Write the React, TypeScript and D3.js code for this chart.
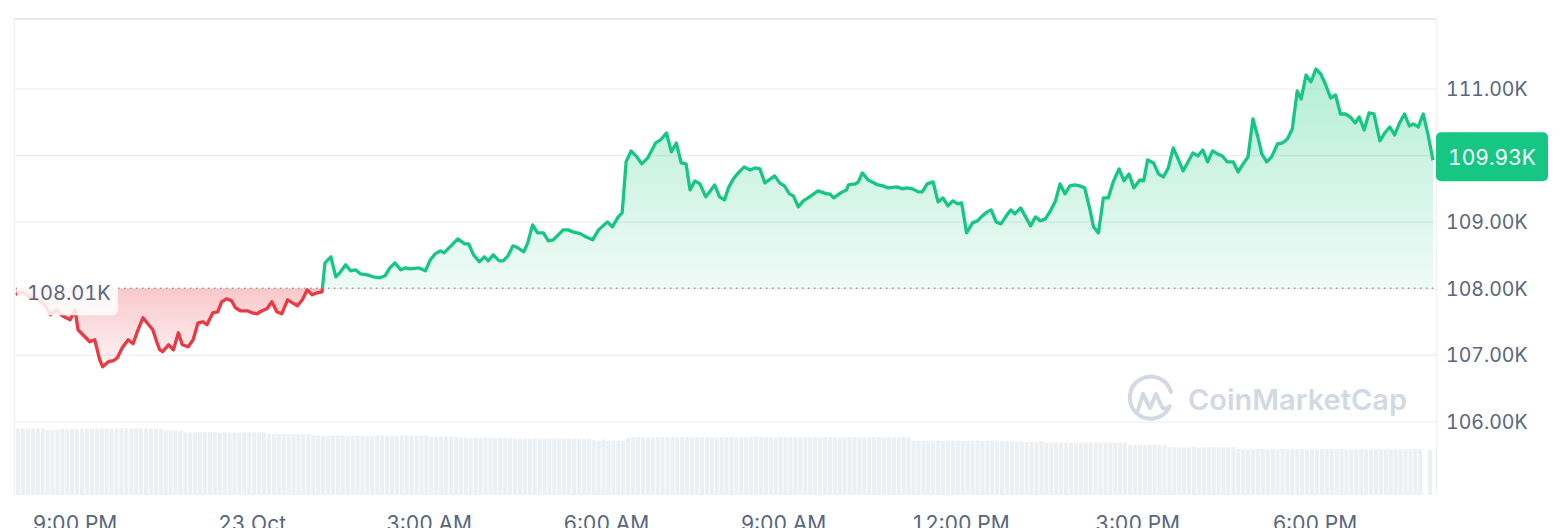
import React from "react";
import * as d3 from "d3";

// ---- data ----
const startTime = new Date(2024, 9, 22, 20, 0);
const basePrice = 108.01; // K, opening reference
const lastPriceLabel = "109.93K";

// minutes since start, prices in thousands USD
const minutes = [
  0, 6, 14, 22, 29, 35, 41, 47, 55, 60,
  63, 69, 75, 80, 85, 88, 94, 99, 103, 108,
  114, 119, 124, 129, 134, 139, 143, 146, 149, 155,
  160, 165, 169, 175, 180, 185, 190, 194, 200, 205,
  209, 214, 219, 223, 228, 235, 240, 245, 250, 255,
  260, 265, 270, 276, 281, 286, 291, 296, 301, 306,
  311, 314, 320, 325, 329, 335, 340, 345, 350, 357,
  363, 370, 375, 380, 385, 391, 396, 401, 409, 416,
  421, 426, 431, 435, 441, 449, 456, 460, 465, 471,
  476, 480, 485, 491, 495, 500, 505, 510, 516, 520,
  525, 530, 536, 541, 546, 551, 556, 561, 566, 574,
  579, 586, 592, 601, 606, 612, 616, 620, 625, 631,
  636, 642, 650, 655, 661, 666, 671, 676, 681, 685,
  690, 695, 701, 710, 715, 720, 724, 729, 734, 740,
  746, 751, 756, 761, 771, 776, 781, 786, 790, 795,
  800, 805, 815, 824, 827, 831, 838, 844, 846, 853,
  856, 860, 866, 876, 881, 886, 895, 901, 905, 911,
  917, 921, 926, 932, 937, 942, 947, 952, 957, 961,
  966, 972, 977, 982, 987, 991, 996, 1001, 1007, 1011,
  1015, 1021, 1026, 1031, 1036, 1041, 1046, 1050, 1056, 1061,
  1066, 1071, 1076, 1081, 1086, 1091, 1095, 1100, 1105, 1110,
  1115, 1121, 1126, 1131, 1136, 1142, 1146, 1150, 1156, 1161,
  1166, 1171, 1176, 1181, 1186, 1191, 1196, 1201, 1206, 1211,
  1216, 1221, 1226, 1231, 1237, 1242, 1247, 1252, 1257, 1262,
  1266, 1271, 1276, 1282, 1287, 1292, 1297, 1302, 1306, 1311,
  1316, 1321, 1326, 1331, 1336, 1341, 1346, 1351, 1356, 1361,
  1365, 1370, 1375, 1380, 1386, 1391, 1396, 1401, 1406, 1411,
  1416, 1420, 1425, 1430, 1435, 1440,
];

const prices = [
  107.91, 107.955, 107.88, 107.835, 107.76, 107.61, 107.685, 107.595, 107.535, 107.685,
  107.385, 107.295, 107.205, 107.235, 106.935, 106.83, 106.905, 106.92, 106.965, 107.115,
  107.235, 107.175, 107.385, 107.565, 107.475, 107.385, 107.205, 107.085, 107.055, 107.16,
  107.085, 107.34, 107.16, 107.13, 107.235, 107.49, 107.505, 107.46, 107.64, 107.655,
  107.805, 107.85, 107.82, 107.715, 107.67, 107.67, 107.64, 107.625, 107.67, 107.7,
  107.805, 107.655, 107.625, 107.835, 107.79, 107.745, 107.835, 107.985, 107.91, 107.94,
  107.955, 108.39, 108.48, 108.18, 108.24, 108.36, 108.27, 108.285, 108.225, 108.21,
  108.18, 108.165, 108.195, 108.315, 108.39, 108.285, 108.315, 108.3, 108.315, 108.27,
  108.435, 108.525, 108.57, 108.54, 108.63, 108.75, 108.675, 108.675, 108.51, 108.405,
  108.48, 108.42, 108.51, 108.42, 108.42, 108.495, 108.645, 108.615, 108.555, 108.69,
  108.96, 108.84, 108.84, 108.72, 108.735, 108.81, 108.885, 108.885, 108.855, 108.825,
  108.78, 108.735, 108.885, 109.005, 108.93, 109.08, 109.14, 109.905, 110.07, 109.98,
  109.875, 109.965, 110.19, 110.235, 110.34, 110.055, 110.19, 109.89, 109.875, 109.485,
  109.62, 109.575, 109.38, 109.56, 109.38, 109.335, 109.515, 109.65, 109.74, 109.83,
  109.785, 109.815, 109.8, 109.59, 109.695, 109.59, 109.545, 109.425, 109.395, 109.23,
  109.32, 109.365, 109.47, 109.425, 109.425, 109.365, 109.44, 109.485, 109.56, 109.575,
  109.605, 109.74, 109.635, 109.56, 109.545, 109.515, 109.53, 109.5, 109.515, 109.5,
  109.455, 109.455, 109.575, 109.605, 109.305, 109.365, 109.245, 109.32, 109.275, 109.29,
  108.84, 108.99, 109.02, 109.095, 109.155, 109.185, 109.005, 108.975, 109.11, 109.185,
  109.125, 109.215, 109.08, 108.945, 109.08, 109.02, 109.05, 109.14, 109.305, 109.575,
  109.425, 109.545, 109.56, 109.545, 109.515, 109.215, 108.93, 108.84, 109.365, 109.365,
  109.605, 109.8, 109.62, 109.725, 109.515, 109.635, 109.62, 109.935, 109.89, 109.725,
  109.68, 109.815, 110.115, 109.95, 109.77, 109.905, 110.04, 109.995, 110.085, 109.905,
  110.07, 110.025, 109.995, 109.905, 109.905, 109.755, 109.875, 109.98, 110.55, 110.28,
  110.025, 109.905, 109.98, 110.175, 110.19, 110.25, 110.4, 110.97, 110.85, 111.21,
  111.105, 111.3, 111.225, 111.06, 110.865, 110.91, 110.625, 110.625, 110.58, 110.49,
  110.58, 110.385, 110.64, 110.625, 110.22, 110.34, 110.43, 110.31, 110.49, 110.625,
  110.445, 110.475, 110.43, 110.625, 110.31, 109.93,
];

// 5-minute volume bars (billions USD)
const volumes = [
  41.8, 41.9, 41.7, 41.8, 41.6, 41.8, 40.9, 40.7, 40.8, 41.4,
  41.2, 41.5, 41.3, 41.4, 41.8, 41.7, 41.9, 41.8, 41.8, 41.7,
  41.9, 41.8, 41.8, 41.6, 41.8, 41.9, 41.7, 41.8, 41.6, 41.5,
  40.6, 40.3, 40.5, 40.2, 39.4, 39.3, 39.2, 39.3, 39.4, 39.3,
  39.3, 39.2, 39.4, 39.3, 39.3, 39.2, 39.3, 39.4, 39.3, 39.2,
  39.3, 38.3, 38.2, 38.1, 38.2, 38.3, 38.2, 38.0, 38.2, 38.1,
  37.2, 37.3, 37.1, 37.2, 37.2, 37.3, 37.2, 37.1, 37.2, 37.2,
  37.3, 37.2, 37.1, 37.2, 37.2, 37.3, 37.2, 37.1, 37.2, 37.2,
  37.3, 37.2, 37.1, 37.2, 36.6, 36.7, 36.5, 36.6, 36.6, 36.5,
  35.9, 36.0, 35.8, 35.9, 35.9, 36.0, 35.8, 35.9, 35.9, 35.8,
  35.9, 35.3, 35.4, 35.2, 35.3, 35.3, 35.4, 35.2, 35.3, 35.3,
  35.4, 35.2, 35.3, 35.3, 35.4, 35.2, 35.3, 34.6, 34.2, 34.8,
  33.9, 34.0, 34.1, 34.0, 35.8, 36.2, 36.3, 36.1, 36.2, 36.2,
  36.3, 36.2, 36.1, 36.2, 36.2, 36.3, 36.2, 36.1, 36.2, 36.2,
  36.3, 36.2, 36.1, 36.2, 36.2, 36.3, 36.2, 36.1, 36.2, 36.2,
  36.3, 36.2, 36.1, 36.2, 36.2, 36.3, 36.2, 36.1, 36.2, 36.2,
  36.3, 36.2, 36.1, 36.2, 36.2, 36.3, 36.2, 36.1, 36.2, 36.2,
  36.3, 36.2, 36.1, 36.2, 36.2, 36.3, 36.2, 36.1, 36.2, 36.2,
  36.3, 36.2, 34.0, 34.1, 33.9, 34.0, 34.0, 34.1, 33.9, 34.0,
  34.0, 34.1, 33.9, 34.0, 34.0, 34.1, 33.9, 34.0, 34.0, 34.1,
  33.9, 34.0, 34.0, 33.4, 33.5, 33.3, 33.4, 33.4, 33.5, 32.8,
  32.9, 32.7, 32.8, 32.8, 32.9, 32.7, 32.8, 32.8, 32.9, 32.7,
  32.8, 32.8, 32.9, 32.7, 32.8, 32.8, 31.4, 31.5, 31.3, 31.4,
  31.4, 31.5, 31.3, 31.4, 29.9, 30.0, 29.8, 29.9, 29.9, 30.0,
  29.8, 29.9, 29.9, 30.0, 29.8, 29.9, 29.9, 30.0, 28.7, 28.8,
  28.6, 28.7, 28.7, 28.8, 28.6, 28.7, 28.7, 28.8, 28.6, 28.7,
  28.7, 28.8, 28.6, 28.7, 28.7, 28.8, 28.6, 28.7, 28.7, 28.8,
  28.6, 28.7, 28.7, 28.8, 28.6, 28.7, 28.7, 28.8, 28.6, 28.7,
  28.7, 28.8, 28.6, 28.7, 28.7, 28.8, 0, 28.2,
];

const priceTicks = [106, 107, 108, 109, 110, 111];
const timeTickHours = [1, 4, 7, 10, 13, 16, 19, 22]; // hours after start
const timeTickLabels = ["9:00 PM", "23 Oct", "3:00 AM", "6:00 AM", "9:00 AM", "12:00 PM", "3:00 PM", "6:00 PM"];

const GREEN = "#16c784";
const RED = "#ea3943";
const AXIS_TEXT = "#58667e";
const FONT = "Inter, 'Noto Sans', sans-serif";

export default function App() {
  const W = 1566;
  const H = 528;
  const left = 14;
  const right = 1437;
  const top = 18;
  const bottom = 495;

  const endTime = new Date(startTime.getTime() + 24 * 3600 * 1000);
  const x = d3.scaleTime().domain([startTime, endTime]).range([16, 1433]);
  const y = d3.scaleLinear().domain([106, 111]).range([422, 89]);
  const vy = d3.scaleLinear().domain([0, 42]).range([bottom, 428]);

  const n = Math.min(minutes.length, prices.length);
  const data = d3.range(n).map((i) => ({
    t: new Date(startTime.getTime() + minutes[i] * 60000),
    p: prices[i],
  }));

  const baseY = y(basePrice);
  const line = d3
    .line<{ t: Date; p: number }>()
    .x((d) => x(d.t))
    .y((d) => y(d.p));
  const area = d3
    .area<{ t: Date; p: number }>()
    .x((d) => x(d.t))
    .y0(baseY)
    .y1((d) => y(d.p));

  const linePath = line(data) || "";
  const areaPath = area(data) || "";

  const step = x(new Date(startTime.getTime() + 5 * 60000)) - x(startTime);
  const last = data[data.length - 1];
  const lastY = y(last.p);
  const tagTop = lastY - 28;
  const tagH = 49;

  // axis labels hidden behind the last-price tag are not drawn
  const visibleTicks = priceTicks.filter((t) => {
    const ty = y(t);
    return ty + 10 < tagTop || ty - 10 > tagTop + tagH;
  });

  const numStyle = { fontVariantNumeric: "tabular-nums" } as React.CSSProperties;

  return (
    <svg
      width={W}
      height={H}
      style={{ position: "absolute", left: 0, top: 0, background: "#fff" }}
      fontFamily={FONT}
    >
      <defs>
        <clipPath id="aboveClip">
          <rect x={0} y={0} width={W} height={baseY} />
        </clipPath>
        <clipPath id="belowClip">
          <rect x={0} y={baseY} width={W} height={H - baseY} />
        </clipPath>
        <linearGradient id="greenGrad" gradientUnits="userSpaceOnUse" x1={0} y1={y(111.3)} x2={0} y2={baseY}>
          <stop offset="0%" stopColor={GREEN} stopOpacity={0.32} />
          <stop offset="100%" stopColor={GREEN} stopOpacity={0.07} />
        </linearGradient>
        <linearGradient id="redGrad" gradientUnits="userSpaceOnUse" x1={0} y1={baseY} x2={0} y2={y(106.8)}>
          <stop offset="0%" stopColor={RED} stopOpacity={0.28} />
          <stop offset="100%" stopColor={RED} stopOpacity={0.05} />
        </linearGradient>
      </defs>

      {/* volume bars */}
      <g>
        {volumes.map((v, i) => {
          const x0 = x(new Date(startTime.getTime() + i * 5 * 60000));
          return (
            <rect
              key={i}
              x={x0}
              y={vy(v)}
              width={Math.max(0, step - 0.8)}
              height={bottom - vy(v)}
              fill="#edf0f3"
            />
          );
        })}
      </g>

      {/* grid lines */}
      <g>
        {priceTicks.map((t) => (
          <line key={t} x1={left} x2={right} y1={y(t)} y2={y(t)} stroke="#eceef1" strokeWidth={1.2} />
        ))}
      </g>

      {/* frame */}
      <line x1={left} x2={right} y1={top + 1} y2={top + 1} stroke="#e6e7e9" strokeWidth={2} />
      <line x1={left + 0.5} x2={left + 0.5} y1={top} y2={bottom} stroke="#f0f1f3" strokeWidth={1.5} />
      <line x1={right - 0.5} x2={right - 0.5} y1={top} y2={bottom} stroke="#f0f1f3" strokeWidth={1.5} />

      {/* areas */}
      <path d={areaPath} fill="url(#greenGrad)" clipPath="url(#aboveClip)" />
      <path d={areaPath} fill="url(#redGrad)" clipPath="url(#belowClip)" />

      {/* baseline */}
      <line
        x1={16}
        x2={right}
        y1={baseY}
        y2={baseY}
        stroke="#9aa0a6"
        strokeWidth={1.5}
        strokeDasharray="1.5 4.5"
      />

      {/* price line */}
      <path d={linePath} fill="none" stroke={GREEN} strokeWidth={3.3} strokeLinejoin="round" clipPath="url(#aboveClip)" />
      <path d={linePath} fill="none" stroke={RED} strokeWidth={3.3} strokeLinejoin="round" clipPath="url(#belowClip)" />

      {/* base price label */}
      <rect x={17} y={baseY - 8} width={101} height={35} rx={6} fill="#ffffff" fillOpacity={0.85} />
      <text x={27} y={baseY + 11.5} fontSize={20} fill={AXIS_TEXT} style={numStyle}>
        {basePrice.toFixed(2)}K
      </text>

      {/* watermark */}
      <g fill="none" stroke="#d3d9e2" strokeWidth={4} strokeLinecap="round" strokeLinejoin="round">
        <path d="M 1169 408 A 21 21 0 1 1 1171 392" />
        <path d="M 1138 410 L 1143 394 L 1150 408 L 1156 394 L 1161 405 Q 1164 412 1170 406" />
      </g>
      <text x={1188} y={410} fontSize={29} fontWeight={600} fill="#d3d9e2">
        CoinMarketCap
      </text>

      {/* y axis labels */}
      <g>
        {visibleTicks.map((t) => (
          <text key={t} x={1446} y={y(t) + 7} fontSize={19.5} fill={AXIS_TEXT} style={numStyle}>
            {t.toFixed(2)}K
          </text>
        ))}
      </g>

      {/* last price tag */}
      <rect x={1436} y={tagTop} width={112} height={tagH} rx={5} fill={GREEN} />
      <text x={1492} y={lastY + 5} fontSize={21} fill="#ffffff" textAnchor="middle" style={numStyle}>
        {lastPriceLabel}
      </text>

      {/* x axis labels */}
      <g>
        {timeTickHours.map((h, i) => (
          <text
            key={h}
            x={x(new Date(startTime.getTime() + h * 3600000))}
            y={531}
            fontSize={21}
            fill={AXIS_TEXT}
            textAnchor="middle"
            style={numStyle}
          >
            {timeTickLabels[i]}
          </text>
        ))}
      </g>
    </svg>
  );
}
